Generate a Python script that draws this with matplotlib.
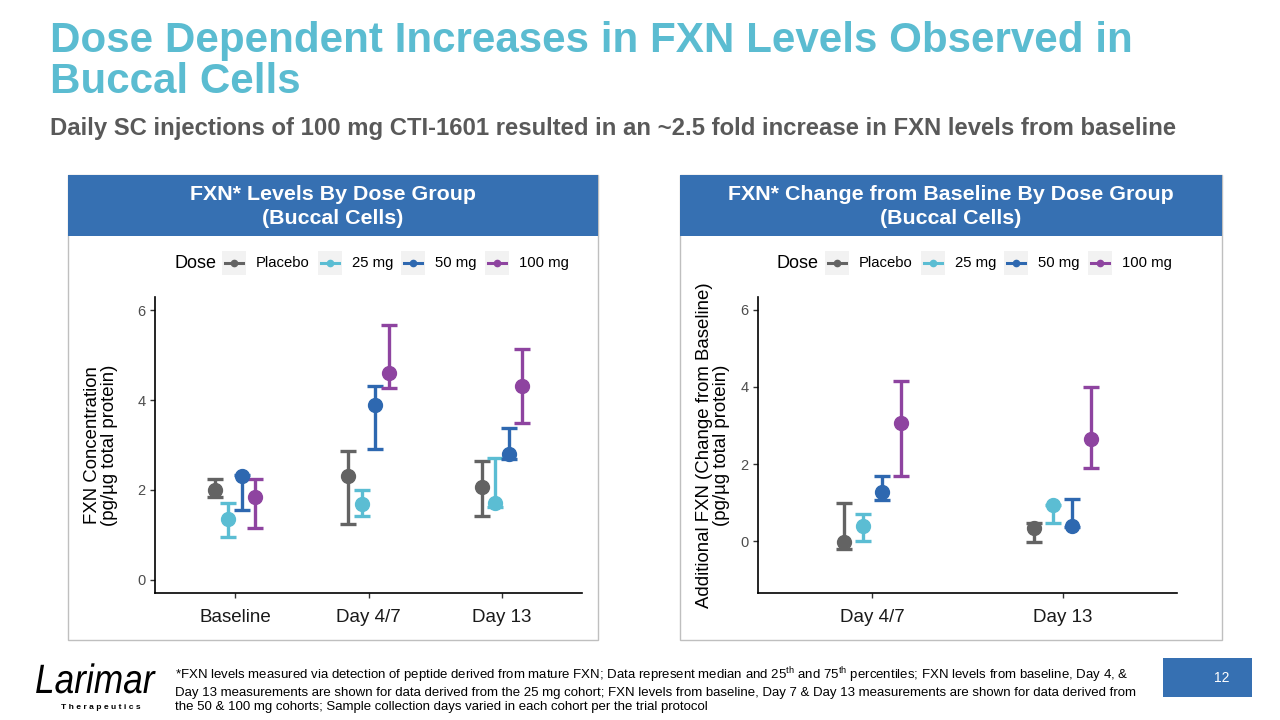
import numpy as np
import matplotlib
matplotlib.use("Agg")
import matplotlib.pyplot as plt
from matplotlib.patches import Rectangle, PathPatch
from matplotlib.lines import Line2D
from matplotlib.textpath import TextPath
from matplotlib.font_manager import FontProperties
from matplotlib.transforms import Affine2D

plt.rcParams['font.family'] = ['Liberation Sans', 'DejaVu Sans']
plt.rcParams['mathtext.fontset'] = 'custom'
plt.rcParams['mathtext.rm'] = 'Liberation Sans'

W, H = 1280, 720

# dose groups and colours
doses = ["Placebo", "25 mg", "50 mg", "100 mg"]
dose_colors = ["#636363", "#5BBDD3", "#2E68B0", "#8E44A0"]

# left chart: FXN levels (median, 25th, 75th percentiles), rows = dose
level_days = ["Baseline", "Day 4/7", "Day 13"]
level_median = [[2.00, 2.30, 2.07],
                [1.36, 1.68, 1.72],
                [2.31, 3.90, 2.81],
                [1.84, 4.59, 4.32]]
level_q25 = [[1.84, 1.24, 1.43],
             [0.96, 1.42, 1.63],
             [1.56, 2.91, 2.68],
             [1.16, 4.27, 3.50]]
level_q75 = [[2.25, 2.87, 2.64],
             [1.70, 1.99, 2.72],
             [2.33, 4.31, 3.37],
             [2.24, 5.67, 5.14]]

# right chart: change from baseline
change_days = ["Day 4/7", "Day 13"]
change_median = [[-0.03, 0.35],
                 [0.39, 0.93],
                 [1.28, 0.39],
                 [3.06, 2.64]]
change_q25 = [[-0.19, -0.02],
              [0.00, 0.48],
              [1.08, 0.37],
              [1.70, 1.91]]
change_q75 = [[0.98, 0.48],
              [0.72, 0.95],
              [1.70, 1.10],
              [4.16, 4.00]]

title_color = "#5BBCD1"
header_blue = "#3670B2"


def fbox(x0, y0, x1, y1):
    # pixel box (top-left origin) -> figure fraction rect
    return [x0 / W, 1 - y1 / H, (x1 - x0) / W, (y1 - y0) / H]


def dot_plot(ax, days, med, q25, q75, ylim, yticks):
    offsets = np.linspace(-0.15, 0.15, len(doses))
    xs = np.arange(1, len(days) + 1)
    for i, col in enumerate(dose_colors):
        m = np.array(med[i])
        lo = m - np.array(q25[i])
        hi = np.array(q75[i]) - m
        ax.errorbar(xs + offsets[i], m, yerr=[lo, hi], fmt='none', ecolor=col,
                    elinewidth=2.4, capsize=5.5, capthick=2.4, zorder=2)
        ax.plot(xs + offsets[i], m, 'o', color=col, ms=10, zorder=3)
    ax.set_xlim(0.4, len(days) + 0.6)
    ax.set_ylim(*ylim)
    ax.set_xticks(xs)
    ax.set_xticklabels(days)
    ax.set_yticks(yticks)
    for s in ['top', 'right']:
        ax.spines[s].set_visible(False)
    for s in ['left', 'bottom']:
        ax.spines[s].set_linewidth(1.2)
        ax.spines[s].set_color('black')
    ax.tick_params(axis='y', labelsize=10.5, labelcolor='#4D4D4D', color='#333333',
                   length=3.5, width=1)
    ax.tick_params(axis='x', labelsize=13.5, labelcolor='#1A1A1A', color='#333333',
                   length=3.5, width=1, pad=8)
    ax.set_facecolor('white')


def draw_legend(fig, x_start, y_center):
    r = fig.canvas.get_renderer()
    yc = H - y_center
    t = fig.text(x_start / W, yc / H, "Dose", fontsize=13, va='center', ha='left')
    x = t.get_window_extent(r).x1
    for name, col in zip(doses, dose_colors):
        x += 6
        fig.patches.append(Rectangle((x / W, (yc - 12) / H), 24 / W, 24 / H,
                                     transform=fig.transFigure, fc='#F2F2F2', ec='none'))
        fig.lines.append(Line2D([(x + 3) / W, (x + 21) / W], [yc / H, yc / H],
                                transform=fig.transFigure, color=col, lw=2.2))
        fig.lines.append(Line2D([(x + 12) / W], [yc / H], transform=fig.transFigure,
                                marker='o', color=col, ms=4.5))
        x += 24 + 10
        lt = fig.text(x / W, yc / H, name, fontsize=10.7, va='center', ha='left')
        x = lt.get_window_extent(r).x1 + 2


fig = plt.figure(figsize=(12.8, 7.2), dpi=100)
fig.patch.set_facecolor('white')

# titles
fig.text(50 / W, 1 - 51.7 / H, "Dose Dependent Increases in FXN Levels Observed in",
         fontsize=30.3, fontweight='bold', color=title_color, va='baseline')
fig.text(50 / W, 1 - 93.3 / H, "Buccal Cells",
         fontsize=30.3, fontweight='bold', color=title_color, va='baseline')
fig.text(50 / W, 1 - 135 / H,
         "Daily SC injections of 100 mg CTI-1601 resulted in an ~2.5 fold increase in FXN levels from baseline",
         fontsize=17.2, fontweight='bold', color='#595959', va='baseline')

# panel frames and headers
panels = [(68, 598, "FXN* Levels By Dose Group\n(Buccal Cells)"),
          (680, 1222, "FXN* Change from Baseline By Dose Group\n(Buccal Cells)")]
for x0, x1, head in panels:
    fig.patches.append(Rectangle((x0 / W, 1 - 640 / H), (x1 - x0) / W, (640 - 175) / H,
                                 transform=fig.transFigure, fill=False, ec='#BFBFBF', lw=1))
    fig.patches.append(Rectangle((x0 / W, 1 - 236 / H), (x1 - x0) / W, (236 - 175) / H,
                                 transform=fig.transFigure, fc=header_blue, ec='none'))
    fig.text((x0 + x1) / 2 / W, 1 - 206.5 / H, head, fontsize=15.4, fontweight='bold',
             color='white', ha='center', va='center', linespacing=1.3)

# left chart
ax1 = fig.add_axes(fbox(155, 297, 582, 593))
dot_plot(ax1, level_days, level_median, level_q25, level_q75, (-0.29, 6.29), [0, 2, 4, 6])
fig.text(101 / W, 1 - 445 / H, "FXN Concentration\n(pg/µg total protein)", fontsize=13.4,
         rotation=90, ha='center', va='center', linespacing=1.05)

# right chart
ax2 = fig.add_axes(fbox(758, 297, 1177, 593))
dot_plot(ax2, change_days, change_median, change_q25, change_q75, (-1.34, 6.33), [0, 2, 4, 6])
fig.text(713 / W, 1 - 445 / H, "Additional FXN (Change from Baseline)\n(pg/µg total protein)",
         fontsize=13.4, rotation=90, ha='center', va='center', linespacing=1.05)

draw_legend(fig, 174, 263)
draw_legend(fig, 777, 263)

# footer: logo word squeezed horizontally
logo = TextPath((0, 0), "Larimar", size=41,
                prop=FontProperties(family='Liberation Sans', style='italic'))
fig.patches.append(PathPatch(logo, fc='black', ec='none',
                             transform=Affine2D().scale(0.86, 1.0).translate(35, H - 693)))
fig.text(101 / W, 1 - 709 / H, "T h e r a p e u t i c s", fontsize=6.1, fontweight='bold',
         ha='center', va='baseline', color='black')
foot = ("*FXN levels measured via detection of peptide derived from mature FXN; Data represent median and 25$^{\\mathrm{th}}$ and 75$^{\\mathrm{th}}$ percentiles; FXN levels from baseline, Day 4, &\n"
        "Day 13 measurements are shown for data derived from the 25 mg cohort; FXN levels from baseline, Day 7 & Day 13 measurements are shown for data derived from\n"
        "the 50 & 100 mg cohorts; Sample collection days varied in each cohort per the trial protocol")
fig.text(175 / W, 1 - 689 / H, foot, fontsize=9.5, va='center', ha='left',
         color='black', linespacing=1.25)
fig.patches.append(Rectangle((1163 / W, 1 - 697 / H), (1252 - 1163) / W, (697 - 658) / H,
                             transform=fig.transFigure, fc=header_blue, ec='none'))
fig.text(1222 / W, 1 - 678 / H, "12", fontsize=10, color='white', ha='center', va='center')

fig.savefig("out.png", dpi=100)
